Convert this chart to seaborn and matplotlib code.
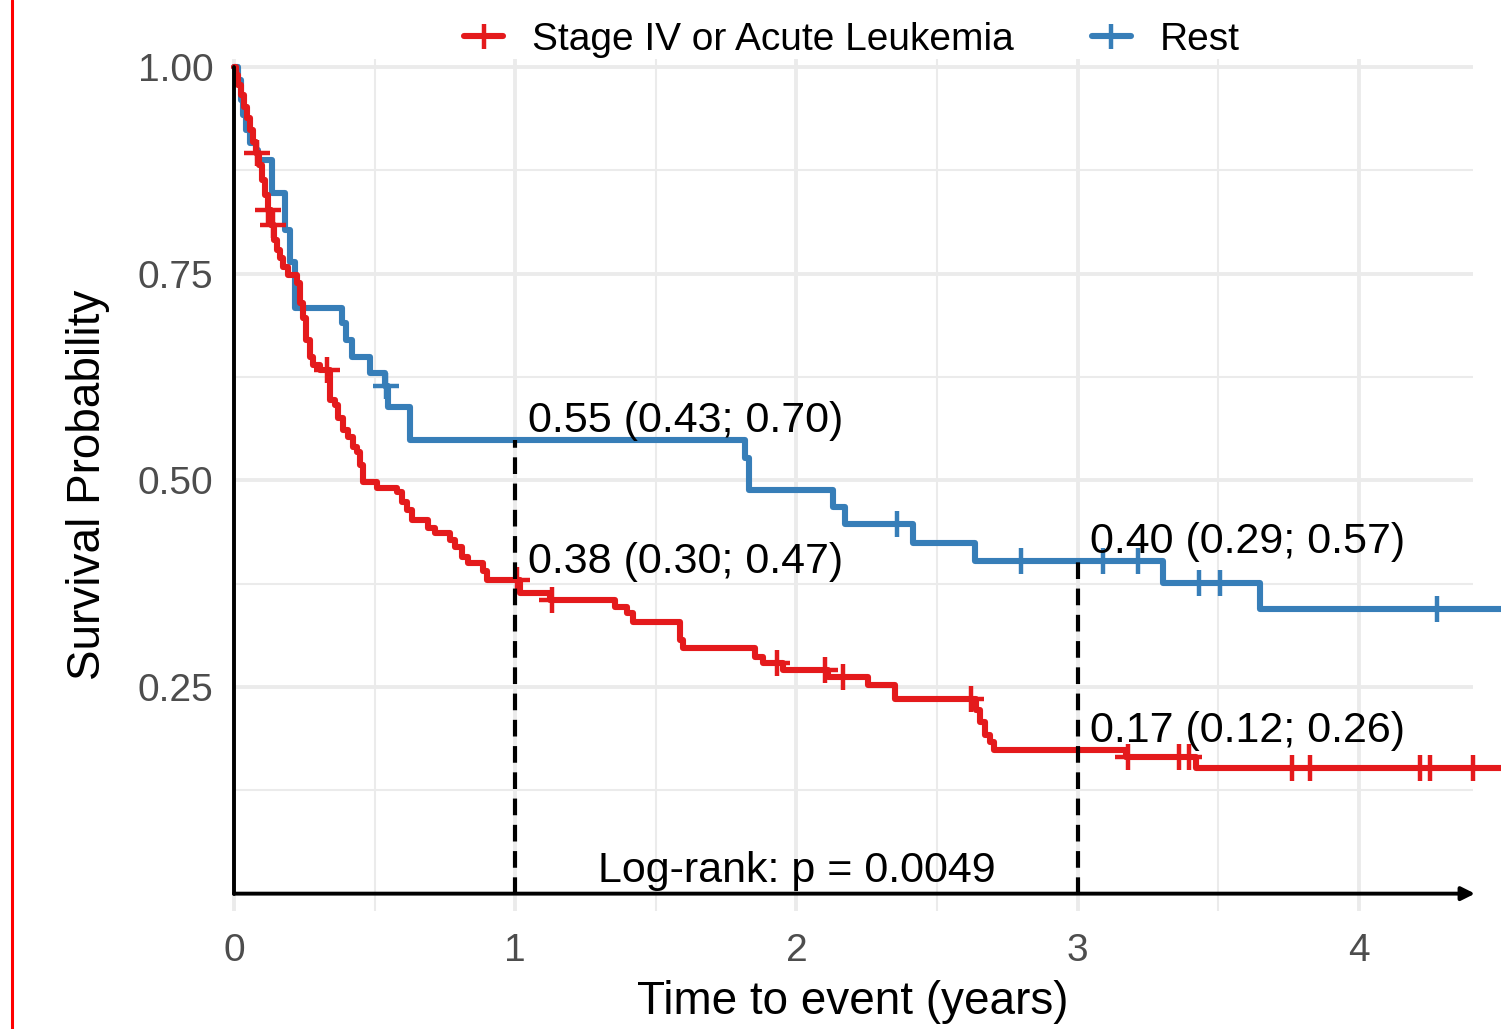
import numpy as np
import pandas as pd
import matplotlib.pyplot as plt
import seaborn as sns
from matplotlib.lines import Line2D

# Kaplan-Meier steps (time in years, survival after the drop)
red_time = [0, 0.007, 0.014, 0.025, 0.036, 0.046, 0.057, 0.068, 0.078, 0.089, 0.100,
            0.110, 0.121, 0.132, 0.142, 0.153, 0.164, 0.174, 0.192, 0.224, 0.235,
            0.245, 0.256, 0.270, 0.281, 0.306, 0.341, 0.359, 0.370, 0.388, 0.405,
            0.423, 0.437, 0.448, 0.459, 0.509, 0.580, 0.597, 0.615, 0.633, 0.690,
            0.715, 0.768, 0.786, 0.811, 0.832, 0.885, 0.900, 1.017, 1.124, 1.355,
            1.398, 1.419, 1.586, 1.597, 1.853, 1.881, 1.952, 2.112, 2.255, 2.351,
            2.639, 2.653, 2.671, 2.688, 2.703, 3.172, 3.421, 4.6]
red_surv = [1.0, 0.990, 0.978, 0.966, 0.952, 0.938, 0.924, 0.909, 0.896, 0.881, 0.863,
            0.845, 0.827, 0.809, 0.791, 0.779, 0.769, 0.758, 0.748, 0.739, 0.715,
            0.696, 0.670, 0.649, 0.640, 0.633, 0.597, 0.591, 0.575, 0.561, 0.552,
            0.540, 0.534, 0.519, 0.498, 0.491, 0.486, 0.474, 0.464, 0.452, 0.442,
            0.436, 0.428, 0.419, 0.407, 0.400, 0.390, 0.379, 0.364, 0.355, 0.347,
            0.340, 0.329, 0.307, 0.297, 0.286, 0.279, 0.271, 0.262, 0.252, 0.236,
            0.222, 0.208, 0.192, 0.184, 0.174, 0.165, 0.152, 0.152]
red_cens = [0.082, 0.121, 0.139, 0.331, 1.006, 1.131, 1.931, 2.100, 2.166, 2.621,
            3.179, 3.361, 3.396, 3.762, 3.826, 4.218, 4.253, 4.406]

blue_time = [0, 0.014, 0.025, 0.032, 0.043, 0.057, 0.078, 0.085, 0.135, 0.181, 0.199,
             0.217, 0.384, 0.398, 0.420, 0.484, 0.537, 0.548, 0.626, 1.817, 1.831,
             2.130, 2.173, 2.415, 2.635, 3.304, 3.649, 4.6]
blue_surv = [1.0, 0.984, 0.960, 0.942, 0.924, 0.908, 0.900, 0.888, 0.848, 0.803, 0.764,
             0.708, 0.690, 0.670, 0.649, 0.630, 0.614, 0.589, 0.549, 0.527, 0.488,
             0.468, 0.447, 0.424, 0.402, 0.376, 0.344, 0.344]
blue_cens = [0.541, 2.358, 2.799, 3.090, 3.215, 3.432, 3.506, 4.278]

groups = ['Stage IV or Acute Leukemia', 'Rest']
colors = {'Stage IV or Acute Leukemia': '#E41A1C', 'Rest': '#377EB8'}

# survival at 1 and 3 years with CI
labels_1y = ['0.55 (0.43; 0.70)', '0.38 (0.30; 0.47)']
labels_3y = ['0.40 (0.29; 0.57)', '0.17 (0.12; 0.26)']
pval_text = 'Log-rank: p = 0.0049'


def surv_at(times, surv, t):
    idx = np.searchsorted(times, t, side='right') - 1
    return np.asarray(surv)[idx]


curves = {
    'Rest': pd.DataFrame({'time': blue_time, 'surv': blue_surv}),
    'Stage IV or Acute Leukemia': pd.DataFrame({'time': red_time, 'surv': red_surv}),
}
cens = {
    'Rest': pd.DataFrame({'time': blue_cens,
                          'surv': surv_at(blue_time, blue_surv, blue_cens)}),
    'Stage IV or Acute Leukemia': pd.DataFrame({'time': red_cens,
                                                'surv': surv_at(red_time, red_surv, red_cens)}),
}

sns.set_theme(style='white')
plt.rcParams['font.family'] = ['Liberation Sans', 'DejaVu Sans']
plt.rcParams['text.color'] = 'black'
plt.rcParams['axes.labelcolor'] = 'black'

fig = plt.figure(figsize=(15.01, 10.29), dpi=100)
ax = fig.add_axes([232 / 1501, 118 / 1029, 1241 / 1501, 852.3 / 1029])

# grid like ggplot theme_minimal
ax.set_xticks([0, 1, 2, 3, 4])
ax.set_xticks([0.5, 1.5, 2.5, 3.5], minor=True)
ax.set_yticks([0.25, 0.5, 0.75, 1.0])
ax.set_yticklabels(['0.25', '0.50', '0.75', '1.00'])
ax.set_yticks([0.125, 0.375, 0.625, 0.875], minor=True)
ax.grid(which='major', color='#EBEBEB', lw=2.8)
ax.grid(which='minor', color='#EBEBEB', lw=1.5)
ax.set_axisbelow(True)
for s in ax.spines.values():
    s.set_visible(False)

for g in ['Rest', 'Stage IV or Acute Leukemia']:
    sns.lineplot(data=curves[g], x='time', y='surv', color=colors[g],
                 drawstyle='steps-post', estimator=None, sort=False, legend=False,
                 clip_on=False, ax=ax, zorder=3)
    ax.lines[-1].set_linewidth(4.4)
    sns.scatterplot(data=cens[g], x='time', y='surv', color=colors[g], marker='+',
                    s=330, linewidth=3.2, legend=False, clip_on=False, ax=ax, zorder=4)

# dashed guides at 1 and 3 years
for t in [1, 3]:
    top = surv_at(blue_time, blue_surv, t)
    ax.plot([t, t], [0, top], color='black', linewidth=3.0, dashes=(4.0, 2.3), zorder=5)

# axes lines
ax.plot([0, 0], [0, 1.0], color='black', linewidth=2.8, zorder=5, clip_on=False)
ax.annotate('', xy=(4.413, 0), xytext=(0, 0), annotation_clip=False,
            arrowprops=dict(arrowstyle='-|>', color='black', lw=2.8,
                            mutation_scale=20, shrinkA=0, shrinkB=0), zorder=5)

ax.text(1.045, 0.5585, labels_1y[0], fontsize=31, color='black', zorder=6)
ax.text(1.045, 0.388, labels_1y[1], fontsize=31, color='black', zorder=6)
ax.text(3.044, 0.412, labels_3y[0], fontsize=31, color='black', zorder=6)
ax.text(3.044, 0.1835, labels_3y[1], fontsize=31, color='black', zorder=6)
ax.text(2.0, 0.0142, pval_text, fontsize=31, color='black', ha='center', zorder=6)

ax.set_xlim(-0.007, 4.406)
ax.set_ylim(-0.021, 1.01)
ax.tick_params(axis='both', which='both', length=0, labelsize=28, labelcolor='#4D4D4D')
ax.tick_params(axis='y', pad=13.5)
ax.tick_params(axis='x', pad=16)
ax.set_xlabel('Time to event (years)', fontsize=33, labelpad=8)
ax.set_ylabel('Survival Probability', fontsize=33, labelpad=20)

handles = [Line2D([], [], color=colors[g], linewidth=4.4, marker='+', markersize=18,
                  markeredgewidth=3.2) for g in groups]
fig.legend(handles, groups, loc='center', bbox_to_anchor=(852 / 1501, 1 - 40 / 1029),
           ncol=2, frameon=False, fontsize=28, handlelength=1.0, handletextpad=0.75,
           columnspacing=2.0, labelcolor='black')

# red border line at the left edge
fig.add_artist(Line2D([12 / 1501, 12 / 1501], [0, 1], transform=fig.transFigure,
                      color='#FF0000', linewidth=2.2))

fig.savefig('out.png', dpi=100)
